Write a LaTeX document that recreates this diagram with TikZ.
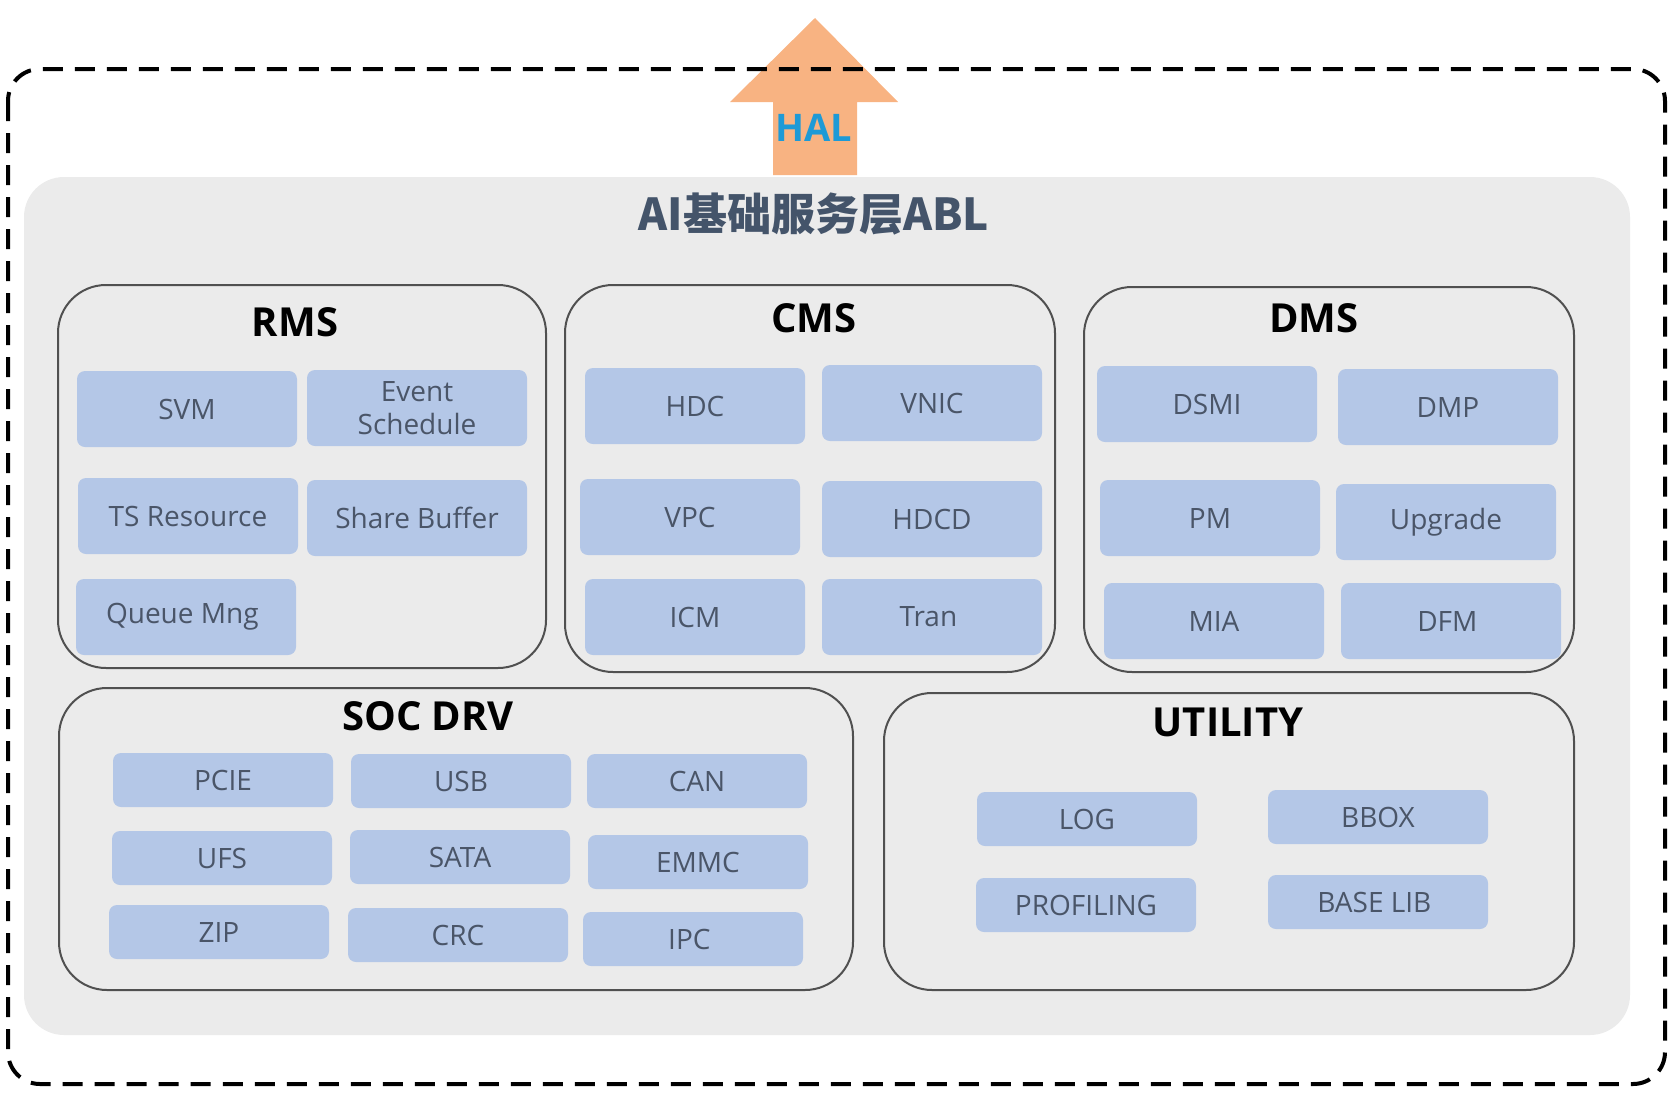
\documentclass[tikz,border=0pt]{standalone}
\usepackage{fontspec}
\setmainfont{Open Sans}
\newfontfamily\cjk{Noto Sans CJK SC}

\definecolor{bgGray}{HTML}{EBEBEB}
\definecolor{boxBlue}{HTML}{B4C7E7}
\definecolor{itemText}{HTML}{4A5568}
\definecolor{titleText}{HTML}{44546A}
\definecolor{halBlue}{HTML}{1E9AD6}
\definecolor{arrowPeach}{HTML}{F8B382}
\definecolor{groupLine}{HTML}{505050}

\begin{document}
\begin{tikzpicture}[x=1pt,y=-1pt,
    group/.style={draw=groupLine, line width=2pt, rounded corners=48pt, inner sep=0pt},
    grouptitle/.style={font=\fontsize{40}{44}\selectfont\bfseries, text=black},
    item/.style={fill=boxBlue, rounded corners=8pt, minimum width=220pt, minimum height=76pt,
        inner sep=0pt, align=center, text=itemText, font=\fontsize{28}{33}\selectfont},
    smallitem/.style={item, minimum height=54pt}
  ]
    \useasboundingbox (0,0) rectangle (1679,1093);

    % Fond gris
    \fill[bgGray, rounded corners=40pt] (24,177) rectangle (1630,1035);

    % Fleche HAL
    \fill[arrowPeach] (773,175) -- (773,102) -- (730,102) -- (815,18)
        -- (898,102) -- (857,102) -- (857,175) -- cycle;
    \node[font=\fontsize{38}{40}\selectfont\bfseries, text=halBlue] (hal) at (814,128) {HAL};

    % Cadre pointille
    \draw[line width=4pt, dash pattern=on 20pt off 12pt, rounded corners=32pt]
        (8,69) rectangle (1665,1084);

    % Titre
    \node[font=\cjk\fontsize{44}{48}\selectfont\bfseries, text=titleText] (abl) at (814,214) {AI基础服务层ABL};

    % ---- Groupes ----
    \node[group, minimum width=488pt, minimum height=383pt] (rms) at (302,476.5) {};
    \node[group, minimum width=490pt, minimum height=387pt] (cms) at (810,478.5) {};
    \node[group, minimum width=490pt, minimum height=385pt] (dms) at (1329,479.5) {};
    \node[group, minimum width=794pt, minimum height=302pt] (soc) at (456,839) {};
    \node[group, minimum width=690pt, minimum height=297pt] (util) at (1229,841.5) {};

    \node[grouptitle] (rmsT) at (295,322) {RMS};
    \node[grouptitle] (cmsT) at (814,318) {CMS};
    \node[grouptitle] (dmsT) at (1314,318) {DMS};
    \node[grouptitle] (socT) at (428,716) {SOC DRV};
    \node[grouptitle] (utilT) at (1228,722) {UTILITY};

    % RMS
    \foreach \nm/\cx/\cy/\txt in {
        svm/187/409/{SVM},
        evt/417/408/{Event\\Schedule},
        tsr/188/516/{TS Resource},
        shb/417/518/{Share Buffer},
        qmg/186/617/{Queue Mng}
    }{
        \node[item] (\nm) at (\cx,\cy) {\txt};
    }

    % CMS
    \foreach \nm/\cx/\cy/\txt in {
        hdc/695/406/{HDC},
        vnic/932/403/{VNIC},
        vpc/690/517/{VPC},
        hdcd/932/519/{HDCD},
        icm/695/617/{ICM},
        tran/932/617/{Tran}
    }{
        \node[item] (\nm) at (\cx,\cy) {\txt};
    }

    % DMS
    \foreach \nm/\cx/\cy/\txt in {
        dsmi/1207/404/{DSMI},
        dmp/1448/407/{DMP},
        pm/1210/518/{PM},
        upg/1446/522/{Upgrade},
        mia/1214/621/{MIA},
        dfm/1451/621/{DFM}
    }{
        \node[item] (\nm) at (\cx,\cy) {\txt};
    }

    % SOC DRV
    \foreach \nm/\cx/\cy/\txt in {
        pcie/223/780/{PCIE},
        usb/461/781/{USB},
        can/697/781/{CAN},
        ufs/222/858/{UFS},
        sata/460/857/{SATA},
        emmc/698/862/{EMMC},
        zip/219/932/{ZIP},
        crc/458/935/{CRC},
        ipc/693/939/{IPC}
    }{
        \node[smallitem] (\nm) at (\cx,\cy) {\txt};
    }

    % UTILITY
    \foreach \nm/\cx/\cy/\txt in {
        log/1087/819/{LOG},
        bbox/1378/817/{BBOX},
        prof/1086/905/{PROFILING},
        blib/1378/902/{BASE LIB}
    }{
        \node[smallitem] (\nm) at (\cx,\cy) {\txt};
    }

\end{tikzpicture}
\end{document}
